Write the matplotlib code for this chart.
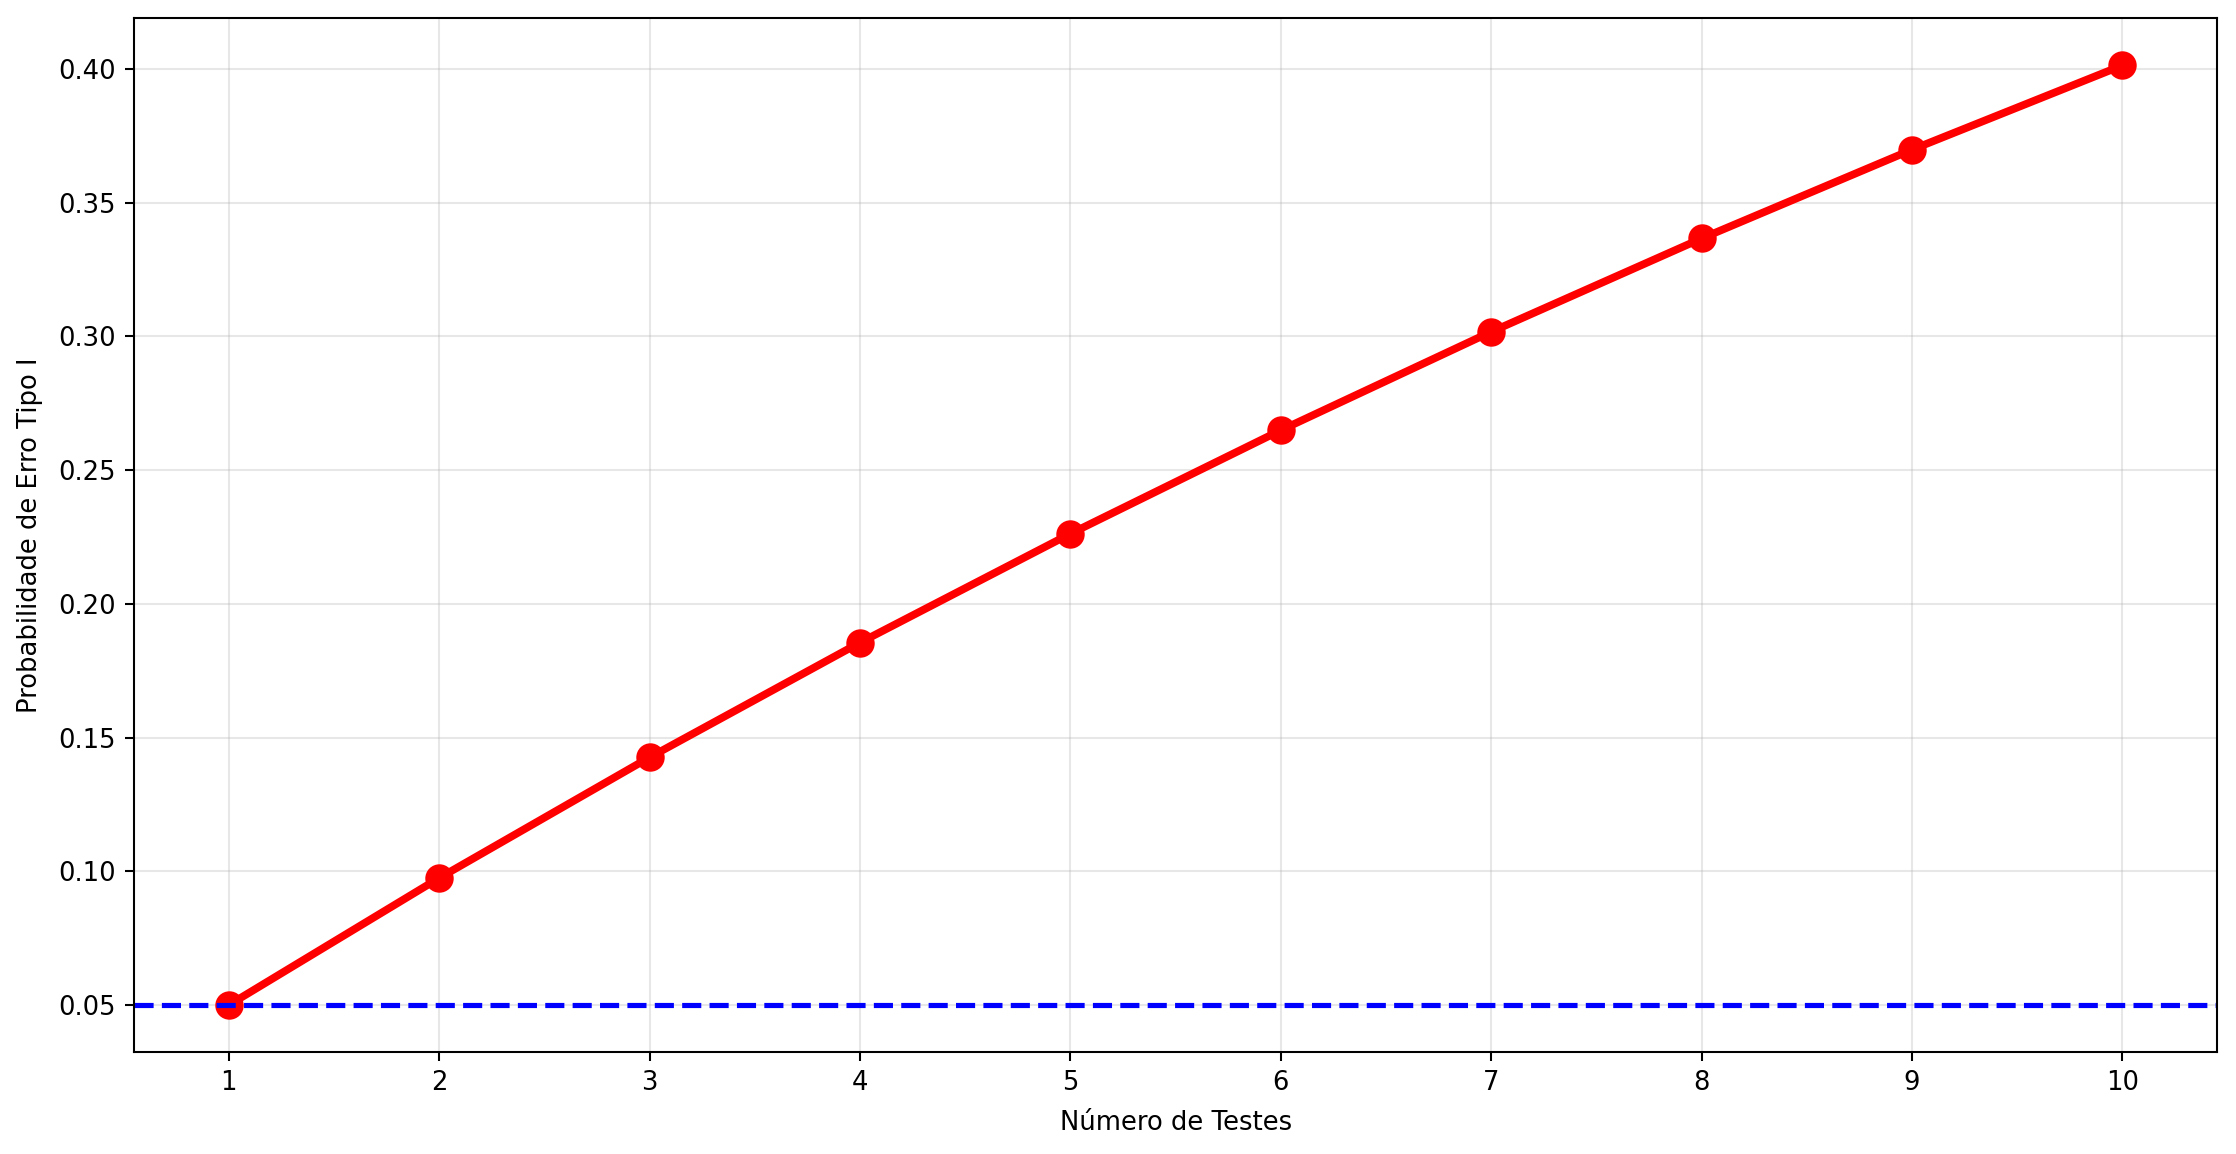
import numpy as np
import matplotlib
matplotlib.use("Agg")
import matplotlib.pyplot as plt

# data
n_testes = [1, 2, 3, 4, 5, 6, 7, 8, 9, 10]
prob_erro = [0.050, 0.0975, 0.1426, 0.1855, 0.2262, 0.2649, 0.3017, 0.3366, 0.3698, 0.4013]
alpha = 0.05

dpi = 186
fig, ax = plt.subplots(figsize=(2236 / dpi, 1154 / dpi), dpi=dpi)
ax.plot(n_testes, prob_erro, color='red', linewidth=3, marker='o', markersize=10)
ax.axhline(alpha, color='blue', linestyle='--', linewidth=2)
ax.set_xlabel('Número de Testes', labelpad=5.2)
ax.set_ylabel('Probabilidade de Erro Tipo I', labelpad=5.8)
ax.set_xticks(n_testes)
ax.grid(True, alpha=0.3)
plt.subplots_adjust(left=0.060, right=0.9915, top=0.984, bottom=0.0884)
plt.savefig('out.png', dpi=dpi)
plt.close()
